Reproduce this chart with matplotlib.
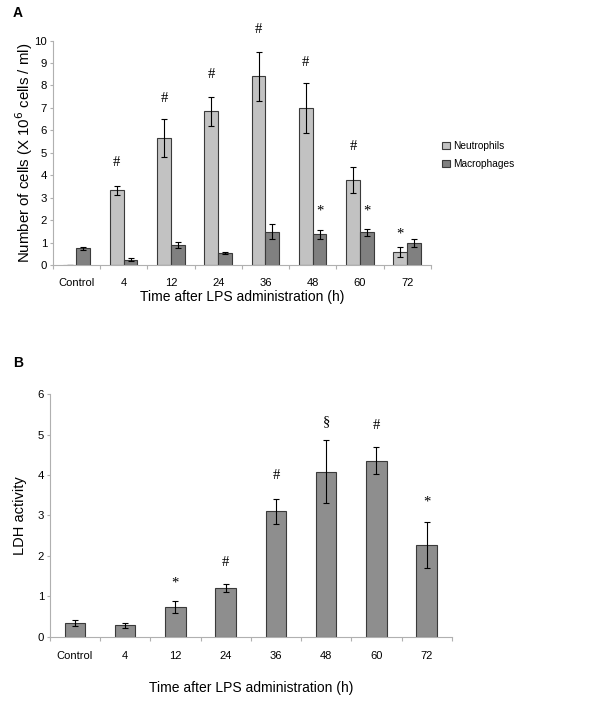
"""Neutrophil/macrophage counts and LDH activity after LPS administration."""

import numpy as np
import matplotlib.pyplot as plt

plt.rcParams["font.family"] = ["Liberation Sans", "DejaVu Sans"]

categories = ["Control", "4", "12", "24", "36", "48", "60", "72"]

# panel A: cell counts (x 10^6 cells / ml)
neutrophils = [0.0, 3.33, 5.65, 6.85, 8.4, 7.0, 3.78, 0.6]
neutrophils_err = [0.0, 0.2, 0.85, 0.65, 1.1, 1.12, 0.58, 0.22]
macrophages = [0.76, 0.25, 0.9, 0.53, 1.5, 1.38, 1.47, 1.0]
macrophages_err = [0.07, 0.06, 0.15, 0.05, 0.32, 0.2, 0.15, 0.18]
marks_neut = ["", "#", "#", "#", "#", "#", "#", "*"]
marks_neut_y = [0, 4.56, 7.43, 8.5, 10.5, 9.0, 5.3, 1.4]
marks_macro = ["", "", "", "", "", "*", "*", ""]
marks_macro_y = [0, 0, 0, 0, 0, 2.4, 2.4, 0]

# panel B: LDH activity
ldh = [0.34, 0.28, 0.73, 1.2, 3.1, 4.08, 4.36, 2.26]
ldh_err = [0.07, 0.06, 0.15, 0.1, 0.32, 0.78, 0.34, 0.57]
marks_ldh = ["", "", "*", "#", "#", "\u00a7", "#", "*"]
marks_ldh_y = [0, 0, 1.32, 1.84, 3.98, 5.32, 5.22, 3.34]

SPINE = "#b0b0b0"
EDGE = "#3a3a3a"
MARK_FONT = ["Liberation Serif", "DejaVu Serif"]


def style_axes(ax, n, xpad):
    for side in ("top", "right"):
        ax.spines[side].set_visible(False)
    for side in ("left", "bottom"):
        ax.spines[side].set_color(SPINE)
        ax.spines[side].set_linewidth(0.8)
    ax.set_xlim(-0.5, n - 0.5)
    ax.set_xticks(np.arange(n))
    ax.set_xticklabels(categories)
    ax.set_xticks(np.arange(n + 1) - 0.5, minor=True)
    ax.tick_params(axis="x", which="major", length=0, pad=xpad, labelsize=8)
    ax.tick_params(axis="x", which="minor", length=3, color=SPINE, width=0.8)
    ax.tick_params(axis="y", length=2.5, color=SPINE, width=0.8, labelsize=8.2, pad=1.5)


fig = plt.figure(figsize=(6.0, 7.11), dpi=100)
x = np.arange(len(categories))
errkw = dict(ecolor="black", elinewidth=0.8, capsize=2.2, capthick=0.8)

# ---- panel A ----
axA = fig.add_axes([0.088, 0.627, 0.630, 0.316])
w = 0.29
axA.bar(x - w / 2, neutrophils, w, yerr=neutrophils_err, color="#c2c2c2",
        edgecolor=EDGE, linewidth=0.8, label="Neutrophils", error_kw=errkw)
axA.bar(x + w / 2, macrophages, w, yerr=macrophages_err, color="#808080",
        edgecolor=EDGE, linewidth=0.8, label="Macrophages", error_kw=errkw)
axA.set_ylim(0, 10)
axA.set_yticks(range(0, 11))
style_axes(axA, len(categories), 9)
for i in range(len(categories)):
    if marks_neut[i]:
        axA.text(x[i] - w / 2, marks_neut_y[i], marks_neut[i], ha="center",
                 va="center", fontsize=10.5, family=MARK_FONT, clip_on=False)
    if marks_macro[i]:
        axA.text(x[i] + w / 2, marks_macro_y[i], marks_macro[i], ha="center",
                 va="center", fontsize=10.5, family=MARK_FONT)
axA.set_ylabel("Number of cells (X 10$^6$ cells / ml)", fontsize=10.8, va="center")
axA.yaxis.set_label_coords(-0.077, 0.5)
axA.set_xlabel("Time after LPS administration (h)", fontsize=10, va="center")
axA.xaxis.set_label_coords(0.5, -0.142)
axA.legend(loc="center left", bbox_to_anchor=(1.02, 0.49), frameon=False,
           fontsize=7.3, handlelength=0.75, handleheight=0.75, handletextpad=0.3,
           labelspacing=0.75, borderaxespad=0)
fig.text(0.03, 0.982, "A", fontsize=10, fontweight="bold", ha="center", va="center")

# ---- panel B ----
axB = fig.add_axes([0.083, 0.1045, 0.670, 0.341])
axB.bar(x, ldh, 0.41, yerr=ldh_err, color="#8e8e8e", edgecolor=EDGE,
        linewidth=0.8, error_kw=errkw)
axB.set_ylim(0, 6)
axB.set_yticks(range(0, 7))
style_axes(axB, len(categories), 10)
for i in range(len(categories)):
    if marks_ldh[i]:
        axB.text(x[i], marks_ldh_y[i], marks_ldh[i], ha="center", va="center",
                 fontsize=10.5, family=MARK_FONT)
axB.set_ylabel("LDH activity", fontsize=10.5, va="center")
axB.yaxis.set_label_coords(-0.075, 0.5)
axB.set_xlabel("Time after LPS administration (h)", fontsize=10, va="center")
axB.xaxis.set_label_coords(0.5, -0.212)
fig.text(0.03, 0.49, "B", fontsize=10, fontweight="bold", ha="center", va="center")

fig.savefig("out.png", dpi=100)
